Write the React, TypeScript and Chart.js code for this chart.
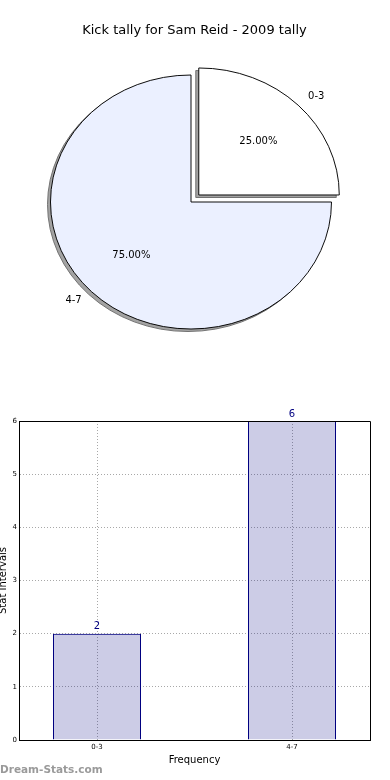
import React, { useEffect, useRef } from 'react';
import { Chart, registerables } from 'chart.js';

Chart.register(...registerables);

// ---------- data ----------
const chartTitle = 'Kick tally for Sam Reid - 2009 tally';
const categories = ['0-3', '4-7'];
const tallies = [2, 6];
const explodeShift = [11, 0]; // radial shift in px of each slice
const sliceColors = ['#FFFFFF', '#EBF0FF'];
const yTickStep = 1;
const yMax = 6;
const xAxisTitle = 'Frequency';
const yAxisTitle = 'Stat Intervals';
const watermark = 'Dream-Stats.com';

const FONT = "'DejaVu Sans', 'Liberation Sans', sans-serif";
const SY = 127 / 140.5; // vertical squash of the pie (ellipse)

const pieDecor = {
  id: 'pieDecor',
  beforeDatasetsDraw(chart: any) {
    const ctx = chart.ctx;
    const meta = chart.getDatasetMeta(0);
    const cy = meta.data[0].y;
    ctx.save();
    ctx.translate(0, cy);
    ctx.scale(1, SY);
    ctx.translate(0, -cy);
    // shadow pass (drawn beneath the slices)
    meta.data.forEach((arc: any) => {
      const o = arc.options;
      ctx.save();
      ctx.translate(-3, 2.8);
      arc.options = { ...o, backgroundColor: '#a3a3a3', borderColor: '#6e6e6e' };
      arc.draw(ctx);
      arc.options = o;
      ctx.restore();
    });
  },
  afterDatasetsDraw(chart: any) {
    const ctx = chart.ctx;
    ctx.restore();
    const meta = chart.getDatasetMeta(0);
    const total = tallies.reduce((a, b) => a + b, 0);
    ctx.save();
    ctx.fillStyle = '#000';
    ctx.font = `10px ${FONT}`;
    ctx.textBaseline = 'middle';
    meta.data.forEach((arc: any, i: number) => {
      const p = arc.getProps(['x', 'y', 'startAngle', 'endAngle', 'outerRadius'], true);
      const mid = (p.startAngle + p.endAngle) / 2;
      const cos = Math.cos(mid);
      const sin = Math.sin(mid);
      const ex = p.x + cos * explodeShift[i];
      const ey = p.y + sin * explodeShift[i] * SY;
      const r = p.outerRadius;
      ctx.textAlign = cos >= 0 ? 'left' : 'right';
      ctx.fillText(categories[i], ex + 1.1 * r * cos, ey + 1.1 * r * sin * SY);
      ctx.textAlign = 'center';
      const pct = ((tallies[i] / total) * 100).toFixed(2) + '%';
      ctx.fillText(pct, ex + 0.6 * r * cos, ey + 0.6 * r * sin * SY);
    });
    // title
    ctx.font = `13px ${FONT}`;
    ctx.textAlign = 'center';
    ctx.textBaseline = 'alphabetic';
    ctx.fillText(chartTitle, 194.5, 34.3);
    ctx.restore();
  },
};

const barDecor = {
  id: 'barDecor',
  afterDatasetsDraw(chart: any) {
    const ctx = chart.ctx;
    const meta = chart.getDatasetMeta(0);
    ctx.save();
    ctx.fillStyle = '#000080';
    ctx.font = `10px ${FONT}`;
    ctx.textAlign = 'center';
    ctx.textBaseline = 'alphabetic';
    meta.data.forEach((bar: any, i: number) => {
      ctx.fillText(String(tallies[i]), bar.x, bar.y - 4.5);
    });
    ctx.restore();
  },
  afterDraw(chart: any) {
    const ctx = chart.ctx;
    const a = chart.chartArea;
    ctx.save();
    ctx.strokeStyle = '#000';
    ctx.lineWidth = 1;
    const top = Math.round(a.top) + 0.5;
    const right = Math.round(a.right) + 0.5;
    ctx.beginPath();
    ctx.moveTo(Math.round(a.left), top);
    ctx.lineTo(right, top);
    ctx.lineTo(right, Math.round(a.bottom) + 1);
    ctx.stroke();
    ctx.fillStyle = '#9a9a9a';
    ctx.font = `bold 10.5px ${FONT}`;
    ctx.textAlign = 'left';
    ctx.textBaseline = 'alphabetic';
    ctx.fillText(watermark, 0, 383);
    ctx.restore();
  },
};

export default function App() {
  const pieRef = useRef<HTMLCanvasElement | null>(null);
  const barRef = useRef<HTMLCanvasElement | null>(null);

  useEffect(() => {
    const pie = new Chart(pieRef.current as HTMLCanvasElement, {
      type: 'pie',
      data: {
        labels: categories,
        datasets: [
          {
            data: tallies,
            backgroundColor: sliceColors,
            borderColor: '#000',
            borderWidth: 1,
            borderJoinStyle: 'miter',
            offset: explodeShift.map((v) => v * 4),
            clip: false,
          } as any,
        ],
      },
      options: {
        responsive: false,
        animation: false,
        devicePixelRatio: 1,
        events: [],
        radius: 140.5,
        layout: { padding: { left: 0, right: 8, top: 48, bottom: 34 } },
        plugins: {
          legend: { display: false },
          tooltip: { enabled: false },
          title: { display: false },
        },
      } as any,
      plugins: [pieDecor],
    });

    const gridColor = '#a8a8a8';
    const bar = new Chart(barRef.current as HTMLCanvasElement, {
      type: 'bar',
      data: {
        datasets: [
          {
            data: tallies.map((v, i) => ({ x: i, y: v })),
            backgroundColor: 'rgba(0,0,128,0.2)',
            borderColor: '#000080',
            borderWidth: 1,
            inflateAmount: 0,
            categoryPercentage: 1,
            barPercentage: 0.4513,
          } as any,
        ],
      },
      options: {
        responsive: false,
        animation: false,
        devicePixelRatio: 1,
        events: [],
        layout: { padding: { left: 0, right: 20, top: 31, bottom: 0 } },
        plugins: {
          legend: { display: false },
          tooltip: { enabled: false },
        },
        scales: {
          x: {
            type: 'linear',
            offset: false,
            min: -0.4,
            max: 1.4,
            afterBuildTicks: (s: any) => {
              s.ticks = categories.map((_, i) => ({ value: i }));
            },
            afterFit: (s: any) => {
              s.height = 40;
            },
            ticks: {
              callback: (v: any) => categories[v] ?? '',
              font: { family: FONT, size: 7 },
              color: '#000',
              padding: 3,
              autoSkip: false,
              maxRotation: 0,
            },
            grid: { color: gridColor, drawTicks: false, lineWidth: 1, offset: false },
            border: { display: true, color: '#000', width: 1, dash: [1, 2] },
            title: {
              display: true,
              text: xAxisTitle,
              color: '#000',
              font: { family: FONT, size: 10 },
              padding: { top: 0, bottom: 14 },
            },
          },
          y: {
            type: 'linear',
            min: 0,
            max: yMax,
            afterFit: (s: any) => {
              s.width = 19;
            },
            ticks: {
              stepSize: yTickStep,
              font: { family: FONT, size: 7 },
              color: '#000',
              padding: 2,
            },
            grid: { color: gridColor, drawTicks: false, lineWidth: 1 },
            border: { display: true, color: '#000', width: 1, dash: [1, 2] },
            title: {
              display: true,
              text: yAxisTitle,
              color: '#000',
              font: { family: FONT, size: 10 },
              padding: { top: -3, bottom: 0 },
            },
          },
        },
      } as any,
      plugins: [barDecor],
    });

    return () => {
      pie.destroy();
      bar.destroy();
    };
  }, []);

  return (
    <div
      style={{
        position: 'absolute',
        left: 0,
        top: 0,
        width: 390,
        height: 780,
        background: '#fff',
      }}
    >
      <canvas ref={pieRef} width={390} height={390} style={{ display: 'block', width: 390, height: 390 }} />
      <canvas ref={barRef} width={390} height={390} style={{ display: 'block', width: 390, height: 390 }} />
    </div>
  );
}
